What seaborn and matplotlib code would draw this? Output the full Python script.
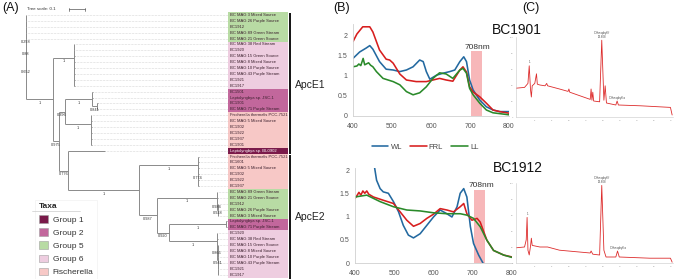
import numpy as np
import pandas as pd
import matplotlib
matplotlib.use("Agg")
import matplotlib.pyplot as plt
from matplotlib.patches import Patch
import seaborn as sns

sns.set_theme(style="white")
plt.rcParams['font.family'] = ['Liberation Sans', 'DejaVu Sans']

# ---------------- (A) tree data ----------------
leaf_names = [
    "BC MAG 3 Mixed Source", "BC MAG 26 Purple Source", "BC1912", "BC MAG 89 Green Stream",
    "BC MAG 21 Green Source", "BC MAG 38 Red Stream", "BC1920", "BC MAG 15 Green Source",
    "BC MAG 8 Mixed Source", "BC MAG 10 Purple Source", "BC MAG 43 Purple Stream", "BC1921",
    "BC1917", "BC1501", "Leptolyngbya sp. JSC-1", "BC1901", "BC MAG 71 Purple Stream",
    "Fischerella thermalis PCC-7521", "BC MAG 5 Mixed Source", "BC1902", "BC1922", "BC1937",
    "BC1901", "Leptolyngbya sp. BL0902", "Fischerella thermalis PCC-7521", "BC1601",
    "BC MAG 5 Mixed Source", "BC1902", "BC1922", "BC1937", "BC MAG 89 Green Stream",
    "BC MAG 21 Green Source", "BC1912", "BC MAG 26 Purple Source", "BC MAG 3 Mixed Source",
    "Leptolyngbya sp. JSC-1", "BC MAG 71 Purple Stream", "BC1920", "BC MAG 38 Red Stream",
    "BC MAG 15 Green Source", "BC MAG 8 Mixed Source", "BC MAG 10 Purple Source",
    "BC MAG 43 Purple Stream", "BC1921", "BC1917",
]
leaf_groups = (["Group 5"] * 5 + ["Group 6"] * 8 + ["Group 2"] * 4 + ["Fischerella"] * 6
               + ["Group 1"] + ["Fischerella"] * 6 + ["Group 5"] * 5 + ["Group 2"] * 2
               + ["Group 6"] * 8)
taxa = ["Group 1", "Group 2", "Group 5", "Group 6", "Fischerella"]
taxa_colors = ["#7a1a4a", "#c2679c", "#b8dba4", "#eecde0", "#f7c8c6"]

# subclades (leaf numbers = row in the label column)
g6_e1 = "(5:0.002,6:0.002,(7:0.002,8:0.002,9:0.002,10:0.002,11:0.002,12:0.002):0.002)"
g2_e1 = "(13:0.004,14:0.004,(15:0.003,16:0.003)0.841:0.031)"
fi_e1 = "(17:0.002,(18:0.002,19:0.002,20:0.002,21:0.002,22:0.002):0.002)"
fi_e2 = "(24:0.004,(25:0.002,26:0.002,27:0.002,28:0.002,29:0.002)0.774:0.002)"
g5_e2 = "(30:0.002,(31:0.002,(32:0.002,33:0.002,34:0.002)0.928:0.002)0.984:0.002)"
g2_e2 = "(35:0.005,36:0.005)"
g6_e2 = "(37:0.002,(38:0.002,(39:0.002,40:0.002,41:0.002,42:0.002,43:0.002,44:0.002)0.941:0.002)0.865:0.002)"
node_g = "(" + g2_e2 + "1:0.356," + g6_e2 + "1:0.3)"
node_f = "(" + g5_e2 + "1:0.375," + node_g + "0.920:0.075)"
node_e = "(" + fi_e2 + "1:0.369," + node_f + "0.987:0.1125)"
node_d = "(23:0.231," + node_e + "1:0.444)"
node_c = "(" + g2_e1 + "1:0.169," + fi_e1 + "1:0.1625)"
node_b = "(" + node_c + "0.396:0.0375," + node_d + "0.776:0.056)"
node_a = "(" + g6_e1 + "1:0.131," + node_b + "0.975:0.0375)"
newick = ("(0:0.001,(1:0.001,(2:0.001,(3:0.001,(4:0.001," + node_a
          + "1:0.169)0.652:0)0.88:0)0.258:0):0);")

# ---------------- (B) absorbance spectra ----------------
bc1901_wl_nm = [400, 417, 434, 443, 451, 468, 485, 503, 520, 537, 554, 571, 580, 588, 597, 614,
                631, 648, 661, 674, 684, 691, 699, 708, 725, 742, 759, 776, 800]
bc1901_wl = [1.44, 1.60, 1.70, 1.76, 1.67, 1.36, 1.17, 1.15, 1.11, 1.15, 1.23, 1.40, 1.36, 1.11,
             0.92, 1.02, 1.07, 1.11, 1.15, 1.36, 1.48, 1.36, 0.90, 0.65, 0.40, 0.23, 0.15, 0.11, 0.11]
bc1901_frl_nm = [400, 410, 425, 443, 451, 468, 485, 494, 503, 520, 537, 562, 588, 605, 622, 639,
                 656, 674, 682, 691, 699, 708, 725, 742, 759, 776, 800]
bc1901_frl = [1.86, 2.05, 2.23, 2.23, 2.10, 1.65, 1.42, 1.40, 1.32, 1.05, 0.90, 0.86, 0.86, 0.90,
              0.94, 0.90, 0.87, 1.15, 1.23, 1.10, 0.73, 0.60, 0.48, 0.32, 0.15, 0.11, 0.07]
bc1901_ll_nm = [400, 410, 415, 420, 426, 430, 440, 445, 451, 460, 477, 503, 520, 537, 554, 571,
                588, 605, 622, 639, 656, 674, 682, 691, 699, 708, 725, 742, 759, 800]
bc1901_ll = [1.23, 1.25, 1.30, 1.26, 1.44, 1.28, 1.33, 1.27, 1.23, 1.11, 0.94, 0.86, 0.78, 0.61,
             0.53, 0.58, 0.73, 0.94, 1.08, 1.05, 0.94, 1.15, 1.19, 1.07, 0.69, 0.53, 0.32, 0.15,
             0.08, 0.03]

bc1912_wl_nm = [449, 455, 464, 472, 485, 498, 511, 523, 536, 549, 566, 583, 600, 617, 634, 647,
                660, 668, 677, 685, 694, 702, 715, 726]
bc1912_wl = [2.10, 1.78, 1.60, 1.53, 1.50, 1.32, 1.10, 0.81, 0.60, 0.54, 0.63, 0.81, 0.99, 1.14,
             1.06, 0.99, 1.21, 1.50, 1.60, 1.42, 0.78, 0.42, 0.17, 0.0]
bc1912_frl_nm = [400, 405, 410, 415, 420, 425, 430, 435, 447, 472, 498, 515, 532, 549, 566, 583,
                 600, 617, 634, 651, 668, 677, 685, 698, 711, 719, 736, 753, 779, 800]
bc1912_frl = [1.39, 1.45, 1.52, 1.46, 1.55, 1.50, 1.55, 1.48, 1.42, 1.35, 1.28, 1.10, 0.92, 0.79,
              0.85, 0.96, 1.05, 1.17, 1.14, 1.10, 1.21, 1.28, 1.06, 0.92, 0.96, 0.88, 0.49, 0.27,
              0.17, 0.13]
bc1912_ll_nm = [400, 430, 464, 498, 532, 566, 600, 634, 668, 685, 702, 719, 736, 753, 779, 800]
bc1912_ll = [1.42, 1.46, 1.32, 1.21, 1.14, 1.12, 1.08, 1.06, 1.06, 1.03, 0.96, 0.78, 0.49, 0.27,
             0.17, 0.12]

# ---------------- (C) HPLC traces ----------------
hplc1901_t = [3.8, 4.8, 5.2, 5.35, 5.5, 5.6, 5.7, 6.0, 6.2, 6.3, 6.6, 7.2, 7.4, 7.5, 8.9, 9.9, 10.0,
              10.1, 12.5, 12.6, 12.7, 12.8, 12.9, 13.6, 13.85, 14.1, 14.25, 14.4, 15.5, 15.65,
              15.8, 18.4, 21.9, 22.1]
hplc1901_v = [36, 37, 42, 64, 34, 25, 39, 42, 54, 41, 40, 39, 42, 39, 35, 32, 35, 31, 22, 35, 21,
              31, 20, 19, 96, 21, 39, 17.5, 15, 20, 15, 14, 12, 2.5]
hplc1912_t = [3.8, 4.8, 5.0, 5.1, 5.2, 5.35, 5.5, 5.6, 5.7, 6.6, 7.5, 8.9, 12.5, 12.6, 12.8, 13.6,
              13.85, 14.1, 14.35, 15.5, 15.7, 15.9, 19.5, 21.9, 22.1]
hplc1912_v = [19, 20, 29, 57, 16, 10, 21, 31, 22, 20, 20, 16, 12.5, 15, 11, 10, 97, 16, 7.5, 7.5,
              15, 7.5, 6, 6, 1]


def parse(s, i=0):
    node = {"children": [], "label": "", "length": 0.0}
    if s[i] == "(":
        i += 1
        while True:
            child, i = parse(s, i)
            node["children"].append(child)
            if s[i] == ",":
                i += 1
            else:
                i += 1
                break
    j = i
    while s[j] not in ":,);":
        j += 1
    node["label"] = s[i:j]
    i = j
    if s[i] == ":":
        j = i + 1
        while s[j] not in ",);":
            j += 1
        node["length"] = float(s[i + 1:j])
        i = j
    return node, i


def layout(node, x0=0.0):
    node["x"] = x0 + node["length"]
    if node["children"]:
        for c in node["children"]:
            layout(c, node["x"])
        node["y"] = (node["children"][0]["y"] + node["children"][-1]["y"]) / 2
    else:
        node["y"] = int(node["label"])


tree, _ = parse(newick)
tree["length"] = 0.0
layout(tree)

fig = plt.figure(figsize=(6.76, 2.79), dpi=100)
fig.patch.set_facecolor("white")

ax_t = fig.add_axes([0, 0, 340 / 676, 1])
ax_t.set_xlim(-0.1625, 1.9625)
ax_t.set_ylim(44.746, -2.542)
ax_t.axis("off")

tree_col = "#8a8a8a"
label_x = 1.2625
stack = [tree]
while stack:
    n = stack.pop()
    if n["children"]:
        ax_t.plot([n["x"], n["x"]], [n["children"][0]["y"], n["children"][-1]["y"]],
                  color=tree_col, lw=0.7, solid_capstyle="butt")
        for c in n["children"]:
            ax_t.plot([n["x"], c["x"]], [c["y"], c["y"]], color=tree_col, lw=0.7,
                      solid_capstyle="butt")
            if c["children"] and c["label"]:
                ax_t.text((n["x"] + c["x"]) / 2, c["y"] + 0.25, c["label"], fontsize=2.8,
                          ha="center", va="top", color="#333333")
            stack.append(c)
    else:
        ax_t.plot([n["x"], label_x], [n["y"], n["y"]], color="#b5b5b5", lw=0.4,
                  ls=(0, (1, 1.6)))

rows = np.arange(len(leaf_names))
col_map = dict(zip(taxa, taxa_colors))
ax_t.barh(rows, width=0.375, left=label_x, height=1.0,
          color=[col_map[g] for g in leaf_groups], linewidth=0)
for r, name, g in zip(rows, leaf_names, leaf_groups):
    ax_t.text(label_x + 0.01, r, name, fontsize=3, va="center", ha="left",
              color="white" if g == "Group 1" else "#3a1f2c")

ax_t.vlines(1.65, -0.4, 23.5, color="black", lw=1.3)
ax_t.vlines(1.65, 23.7, 44.7, color="black", lw=1.3)
ax_t.text(1.681, 11.9, "ApcE1", fontsize=7.5, va="center", ha="left", color="#222222")
ax_t.text(1.681, 34.2, "ApcE2", fontsize=7.5, va="center", ha="left", color="#222222")

ax_t.text(0.006, -1.0, "Tree scale: 0.1", fontsize=3.2, va="center", ha="left", color="#333333")
ax_t.plot([0.269, 0.369], [-1.0, -1.0], color="#555555", lw=0.5)
ax_t.plot([0.269, 0.269], [-1.25, -0.75], color="#555555", lw=0.5)
ax_t.plot([0.369, 0.369], [-1.25, -0.75], color="#555555", lw=0.5)

handles = [Patch(facecolor=c, edgecolor="#a0a0a0", lw=0.4) for c in taxa_colors]
leg = ax_t.legend(handles, taxa, title="Taxa", loc="upper left",
                  bbox_to_anchor=(31 / 676, 1 - 196 / 279), bbox_transform=fig.transFigure,
                  fontsize=6, title_fontproperties={"weight": "bold", "size": 6},
                  handlelength=1.1, handleheight=1.0, labelspacing=0.55, handletextpad=0.6,
                  borderpad=0.4, frameon=True, fancybox=False, alignment="left")
leg.get_frame().set_edgecolor("#eeeeee")
leg.get_frame().set_linewidth(0.5)
for t in leg.get_texts():
    t.set_color("#333333")
fig.add_artist(plt.Line2D([32 / 676, 80 / 676], [1 - 211 / 279, 1 - 211 / 279],
                          color="#cccccc", lw=0.5))

# ---------------- (B) spectra ----------------
pal = {"WL": "#2369a0", "FRL": "#d71e1e", "LL": "#2a8a2a"}


def spectra(parts):
    frames = []
    for light, nm, val in parts:
        frames.append(pd.DataFrame({"nm": nm, "abs": val, "light": light}))
    return pd.concat(frames, ignore_index=True)


panels = [
    ([353 / 676, 1 - 116 / 279, 156 / 676, 92 / 279], 2.3,
     spectra([("WL", bc1901_wl_nm, bc1901_wl), ("FRL", bc1901_frl_nm, bc1901_frl),
              ("LL", bc1901_ll_nm, bc1901_ll)]), 1.63, (719, 1.72)),
    ([355 / 676, 16 / 279, 157 / 676, 95.3 / 279], 2.05,
     spectra([("WL", bc1912_wl_nm, bc1912_wl), ("FRL", bc1912_frl_nm, bc1912_frl),
              ("LL", bc1912_ll_nm, bc1912_ll)]), 1.57, (721, 1.66)),
]
spec_axes = []
for rect, ytop, df, band_h, txt in panels:
    ax = fig.add_axes(rect)
    ax.fill_between([702, 732], 0, band_h, color="#f7b7b9", lw=0, zorder=0.5)
    sns.lineplot(data=df, x="nm", y="abs", hue="light", hue_order=["WL", "FRL", "LL"],
                 palette=pal, estimator=None, sort=False, lw=1.15, ax=ax)
    ax.set_xlim(400, 800)
    ax.set_ylim(0, ytop)
    ax.set_xticks([400, 500, 600, 700, 800])
    ax.set_yticks([0, 0.5, 1, 1.5, 2])
    ax.set_yticklabels(["0", "0.5", "1", "1.5", "2"])
    ax.set_xlabel("")
    ax.set_ylabel("")
    ax.tick_params(length=0, labelsize=5, colors="#555555")
    ax.tick_params(axis="x", pad=5)
    ax.tick_params(axis="y", pad=4)
    sns.despine(ax=ax)
    for sp in ["left", "bottom"]:
        ax.spines[sp].set_color("#d0d0d0")
        ax.spines[sp].set_linewidth(0.6)
    ax.patch.set_alpha(0)
    ax.text(txt[0], txt[1], "708nm", fontsize=6, ha="center", va="center", color="#333333")
    spec_axes.append(ax)

h, l = spec_axes[0].get_legend_handles_labels()
for ax in spec_axes:
    ax.get_legend().remove()
fig.legend(h, l, loc="center", bbox_to_anchor=(425 / 676, 1 - 147 / 279), ncol=3,
           frameon=False, fontsize=5.5, handlelength=2.2, handletextpad=0.3,
           columnspacing=1.0, labelcolor="#444444")

# ---------------- (C) HPLC ----------------
chrom = [
    ([516 / 676, 1 - 117 / 279, 157 / 676, 80 / 279], hplc1901_t, hplc1901_v),
    ([516 / 676, 16 / 279, 157 / 676, 80 / 279], hplc1912_t, hplc1912_v),
]
for rect, t, v in chrom:
    ax = fig.add_axes(rect)
    sns.lineplot(x=t, y=v, color="#dd2c2c", lw=0.6, estimator=None, sort=False, ax=ax)
    ax.set_xlim(3.8, 22.2)
    ax.set_ylim(0, 100)
    ax.set_xticks(np.arange(6, 23, 2))
    ax.set_yticks(np.arange(0, 101, 20))
    ax.tick_params(length=1, width=0.3, labelsize=1.6, colors="#999999", pad=1)
    sns.despine(ax=ax)
    for sp in ["left", "bottom"]:
        ax.spines[sp].set_color("#c8c8c8")
        ax.spines[sp].set_linewidth(0.4)
    ax.patch.set_alpha(0)
    tv = np.array(t)
    vv = np.array(v)
    i_f = int(np.argmax(vv))
    ax.text(tv[i_f], vv[i_f] + 2, "Chlorophyll f\n13.808", fontsize=2, ha="center",
            va="bottom", color="#444444", linespacing=1.0)
    early = np.where(tv < 6)[0]
    i1 = early[np.argmax(vv[early])]
    ax.text(tv[i1], vv[i1] + 2, "1", fontsize=2, ha="center", va="bottom", color="#444444")
    late = np.where((tv > 15) & (tv < 16))[0]
    ia = late[np.argmax(vv[late])]
    ax.text(tv[ia], vv[ia] + 1, "Chlorophyll a", fontsize=2, ha="center", va="bottom",
            color="#444444")

# ---------------- titles / panel letters ----------------
fig.text(517 / 676, 1 - 30 / 279, "BC1901", fontsize=10, ha="center", va="center",
         color="#111111")
fig.text(518 / 676, 1 - 168 / 279, "BC1912", fontsize=10, ha="center", va="center",
         color="#111111")
fig.text(2 / 676, 1 - 8 / 279, "(A)", fontsize=9, ha="left", va="center", color="#111111")
fig.text(333 / 676, 1 - 8 / 279, "(B)", fontsize=9, ha="left", va="center", color="#111111")
fig.text(522 / 676, 1 - 8 / 279, "(C)", fontsize=9, ha="left", va="center", color="#111111")

fig.savefig("out.png", dpi=100)
